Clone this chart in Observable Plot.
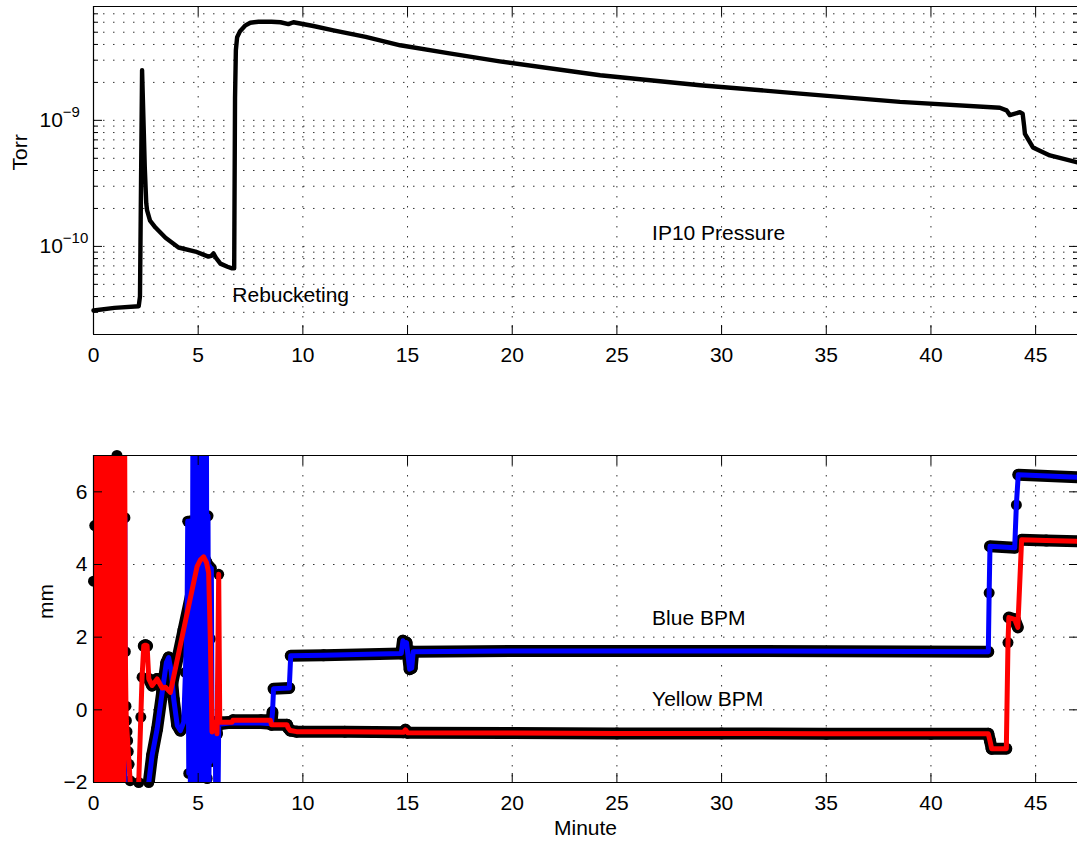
<!DOCTYPE html>
<html><head><meta charset="utf-8">
<script src="https://cdn.jsdelivr.net/npm/d3@7"></script>
<script src="https://cdn.jsdelivr.net/npm/@observablehq/plot@0.6"></script>
<style>
html,body{margin:0;padding:0;background:#fff;}
#wrap{position:relative;width:1077px;height:843px;overflow:hidden;background:#fff;}
#top,#bottom{position:absolute;left:0;}
#top{top:0;} #bottom{top:449px;}
</style></head><body>
<div id="wrap"><div id="top"></div><div id="bottom"></div></div>
<script>
// ---------- DATA ----------
const minuteTicks = [0, 5, 10, 15, 20, 25, 30, 35, 40, 45];
const torrTicks = [1e-10, 1e-9];
const torrMinorTicks = [2e-11, 3e-11, 4e-11, 5e-11, 6e-11, 7e-11, 8e-11, 9e-11,
  2e-10, 3e-10, 4e-10, 5e-10, 6e-10, 7e-10, 8e-10, 9e-10,
  2e-9, 3e-9, 4e-9, 5e-9, 6e-9, 7e-9, 8e-9];
const mmTicks = [-2, 0, 2, 4, 6];

// IP10 pressure (minute, Torr)
const pressMin = [0, 1.0, 2.16, 2.22, 2.32, 2.45, 2.52, 2.56, 2.7, 2.96,
  3.44, 4.06, 4.87, 5.49, 5.62, 5.73, 5.85, 6.06, 6.4, 6.62,
  6.72, 6.76, 6.8, 6.86, 7.0, 7.26, 7.49, 7.88, 8.5, 8.93,
  9.31, 9.55, 10.5, 11.46, 13.0, 14.65, 17.0, 19.4, 24.2, 28.97,
  33.75, 38.52, 43.29, 43.61, 43.77, 44.25, 44.38, 44.45, 44.49, 44.87,
  45.68, 46.95, 47];
const pressTorr = [3.1e-11, 3.25e-11, 3.35e-11, 4.0e-11, 2.5e-9, 4.2e-10, 2.2e-10, 1.93e-10, 1.6e-10, 1.41e-10,
  1.17e-10, 9.8e-11, 9.1e-11, 8.3e-11, 8.4e-11, 8.8e-11, 8.1e-11, 7.3e-11, 6.9e-11, 6.7e-11,
  6.7e-11, 1.5e-9, 3.6e-9, 4.56e-9, 5.1e-9, 5.67e-9, 5.95e-9, 6.05e-9, 6.05e-9, 6.0e-9,
  5.8e-9, 6.0e-9, 5.6e-9, 5.18e-9, 4.6e-9, 3.94e-9, 3.4e-9, 2.94e-9, 2.28e-9, 1.90e-9,
  1.63e-9, 1.40e-9, 1.26e-9, 1.20e-9, 1.10e-9, 1.16e-9, 1.13e-9, 9.0e-10, 7.8e-10, 6.1e-10,
  5.27e-10, 4.67e-10, 4.65e-10];

// Blue BPM samples [minute, mm]
const blueBpm = [[0,3.54],[0.06,5.07],[0.08,-3],[0.14,9],[0.2,-3],[0.26,9],[0.32,-3],[0.38,9],[0.44,-3],[0.5,9],
  [0.56,-3],[0.62,9],[0.68,-3],[0.74,9],[0.8,-3],[0.86,9],[0.92,-3],[0.98,9],[1.04,-3],[1.12,7.0],
  [1.18,-3],[1.26,9],[1.34,-3],[1.42,9],[1.46,-3],[1.5,5.29],[1.51,-2.5],[2.55,-2.5],[2.64,-2.0],[2.8,-1.25],
  [3.04,-0.52],[3.28,0.48],[3.48,1.3],[3.59,1.44],[3.72,1.03],[3.83,0.3],[4.0,-0.43],[4.15,-0.57],[4.31,-0.34],[4.39,1.03],
  [4.47,2.58],[4.5,5.19],[4.55,-1.75],[4.59,5.2],[4.63,-3],[4.67,5.2],[4.71,-3],[4.75,9],[4.79,-3],[4.83,9],
  [4.87,-3],[4.91,9],[4.95,-3],[4.99,9],[5.03,-3],[5.07,9],[5.11,-3],[5.15,9],[5.19,-3],[5.23,9],
  [5.27,-3],[5.31,9],[5.35,-3],[5.39,9],[5.43,-1.89],[5.47,5.34],[5.51,-3],[5.55,3.95],[5.59,-1.43],[5.63,3.9],
  [5.66,-0.45],[5.82,-0.45],[5.84,-3],[5.94,-3],[5.98,-0.4],[6.5,-0.36],[8.0,-0.36],[8.5,-0.38],[8.55,-0.06],
  [8.6,0.58],[9.35,0.6],[9.42,1.49],[11,1.5],[14.7,1.55],[14.78,1.9],[14.86,1.75],[14.95,1.85],[15.1,1.12],[15.2,1.15],
  [15.27,1.6],[20,1.62],[30,1.62],[42.74,1.6],[42.78,3.22],[42.82,4.5],[44.0,4.46],[44.08,5.64],[44.17,6.47],[47,6.4]];

// Yellow BPM samples [minute, mm]
const yellowBpm = [[0,-3],[0.04,9],[0.08,-3],[0.12,9],[0.16,-3],[0.2,9],[0.24,-3],[0.28,9],[0.32,-3],[0.36,9],
  [0.4,-3],[0.44,9],[0.48,-3],[0.52,9],[0.56,-3],[0.6,9],[0.64,-3],[0.68,9],[0.72,-3],[0.76,9],
  [0.8,-3],[0.84,9],[0.88,-3],[0.92,9],[0.96,-3],[1.0,9],[1.04,-3],[1.08,9],[1.12,-3],[1.16,9],
  [1.2,-3],[1.24,9],[1.28,-3],[1.32,9],[1.36,-3],[1.4,9],[1.44,-3],[1.48,9],
  [1.52,1.6],[1.55,0.1],[1.57,-0.3],[1.6,-0.6],[1.63,-0.85],[1.66,-1.15],[1.7,-1.5],[1.75,-1.95],[1.8,-2.5],[2.12,-2.5],
  [2.16,-2.0],[2.26,-0.2],[2.32,0.9],[2.4,1.76],[2.48,1.78],[2.56,1.76],[2.64,0.85],[2.8,0.67],[3.04,0.85],[3.28,0.6],
  [3.44,0.62],[3.67,0.48],[4.3,2.2],[4.95,3.95],[5.1,4.12],[5.26,4.21],[5.4,4.05],[5.5,3.77],[5.58,1.95],[5.66,-0.61],
  [5.74,-0.4],[5.82,-0.34],[5.9,-0.66],[5.98,3.73],[6.03,-0.34],[6.4,-0.34],[6.62,-0.34],[6.66,-0.29],[8.0,-0.29],[8.45,-0.29],
  [8.5,-0.41],[9.24,-0.41],[9.3,-0.5],[9.4,-0.57],[9.7,-0.6],[12,-0.6],[14.8,-0.62],[14.9,-0.55],[15.0,-0.63],[20,-0.64],
  [25,-0.65],[30,-0.65],[35,-0.66],[40,-0.66],[42.74,-0.66],[42.82,-0.85],[42.9,-1.07],[43.6,-1.07],[43.68,1.85],[43.72,2.54],
  [44.0,2.49],[44.15,2.27],[44.33,4.68],[45.5,4.66],[47,4.64]];

// annotations
const topNoteLabels = ["IP10 Pressure", "Rebucketing"];
const topNoteMin = [26.68, 6.63];
const topNoteTorr = [1.28e-10, 4.08e-11];
const bottomNoteLabels = ["Blue BPM", "Yellow BPM"];
const bottomNoteMin = [26.68, 26.68];
const bottomNoteMm = [2.53, 0.3];

// ---------- BUILD ----------
const FONT = "'Liberation Sans', Arial, Helvetica, sans-serif";
const FS = 21;
const W = 1077;
const gridStyle = {stroke: "#000", strokeOpacity: 0.8, strokeWidth: 1, strokeDasharray: "1.5,8.5"};
const frameStyle = {stroke: "#000", strokeWidth: 1.2};
const styleObj = {fontFamily: FONT, fontSize: FS + "px", color: "#000", background: "transparent", overflow: "visible"};
const minus = s => String(s).replace(/-/g, "\u2212");

const pressure = pressMin.map((m, i) => ({m, p: pressTorr[i]}));
const topNotes = topNoteLabels.map((t, i) => ({t, m: topNoteMin[i], p: topNoteTorr[i]}));
const bottomNotes = bottomNoteLabels.map((t, i) => ({t, m: bottomNoteMin[i], v: bottomNoteMm[i]}));

const topPlot = Plot.plot({
  width: W, height: 370,
  marginTop: 6, marginBottom: 36, marginLeft: 93, marginRight: 0,
  style: styleObj,
  x: {domain: [0, 47]},
  y: {type: "log", domain: [2e-11, 8e-9]},
  marks: [
    Plot.gridX(minuteTicks, gridStyle),
    Plot.gridY(torrMinorTicks.concat(torrTicks), gridStyle),
    Plot.line(pressure, {x: "m", y: "p", stroke: "#000", strokeWidth: 4.4, strokeLinejoin: "round", strokeLinecap: "round"}),
    Plot.text(topNotes, {x: "m", y: "p", text: "t", textAnchor: "start", fontSize: FS}),
    Plot.axisX(minuteTicks, {anchor: "bottom", tickSize: -9, tickPadding: 22, label: null, tickFormat: d => String(d)}),
    Plot.axisX(minuteTicks, {anchor: "top", tickSize: -9, label: null, tickFormat: () => ""}),
    Plot.axisY(torrTicks, {anchor: "left", tickSize: -9, tickPadding: 63, textAnchor: "start", label: null,
      tickFormat: d => "10^" + Math.round(Math.log10(d))}),
    Plot.axisY(torrTicks, {anchor: "right", tickSize: -9, label: null, tickFormat: () => ""}),
    Plot.axisY(torrMinorTicks, {anchor: "left", tickSize: -5, label: null, tickFormat: () => ""}),
    Plot.axisY(torrMinorTicks, {anchor: "right", tickSize: -5, label: null, tickFormat: () => ""}),
    Plot.ruleX([0], frameStyle),
    Plot.ruleY([2e-11], frameStyle),
    Plot.ruleY([8e-9], frameStyle),
    Plot.text(["Torr"], {frameAnchor: "left", dx: -73, rotate: -90, text: d => d, fontSize: FS})
  ]
});

// superscript exponents on log tick labels
topPlot.querySelectorAll('g[aria-label="y-axis tick label"] text').forEach(t => {
  const s = t.textContent;
  if (!s.includes("^")) return;
  const [base, exp] = s.split("^");
  t.textContent = base;
  const ts = document.createElementNS("http://www.w3.org/2000/svg", "tspan");
  ts.setAttribute("dy", "-10");
  ts.setAttribute("font-size", "15");
  ts.textContent = minus(exp);
  t.appendChild(ts);
});
document.getElementById("top").appendChild(topPlot);

function toPts(arr) { return arr.map(([m, v]) => ({m, v})); }
function flatSegs(pts) {
  const segs = [];
  for (let i = 1; i < pts.length; i++) {
    const a = pts[i - 1], b = pts[i];
    if (Math.abs(b.v - a.v) <= 8 * Math.abs(b.m - a.m)) segs.push({m1: a.m, v1: a.v, m2: b.m, v2: b.v});
  }
  return segs;
}
const blue = toPts(blueBpm), yellow = toPts(yellowBpm);
const inRange = d => d.v >= -2 && d.v <= 7;

const bandStyle = {x1: "m1", y1: "v1", x2: "m2", y2: "v2", stroke: "#000", strokeWidth: 12, strokeLinecap: "round", clip: true};
const dotStyle = {x: "m", y: "v", r: 5.5, fill: "#000"};

const bottomPlot = Plot.plot({
  width: W, height: 394,
  marginTop: 6, marginBottom: 61, marginLeft: 93, marginRight: 0,
  style: styleObj,
  x: {domain: [0, 47]},
  y: {domain: [-2, 7]},
  marks: [
    Plot.gridX(minuteTicks, gridStyle),
    Plot.gridY(mmTicks, gridStyle),
    Plot.link(flatSegs(blue), bandStyle),
    Plot.dot(blue.filter(inRange), dotStyle),
    Plot.link(flatSegs(yellow), bandStyle),
    Plot.dot(yellow.filter(inRange), dotStyle),
    Plot.line(blue, {x: "m", y: "v", stroke: "#0000ff", strokeWidth: 5, strokeLinejoin: "round", clip: true}),
    Plot.line(yellow, {x: "m", y: "v", stroke: "#ff0000", strokeWidth: 5, strokeLinejoin: "round", clip: true}),
    Plot.text(bottomNotes, {x: "m", y: "v", text: "t", textAnchor: "start", fontSize: FS}),
    Plot.axisX(minuteTicks, {anchor: "bottom", tickSize: -9, tickPadding: 22, label: null, tickFormat: d => String(d)}),
    Plot.axisX(minuteTicks, {anchor: "top", tickSize: -9, label: null, tickFormat: () => ""}),
    Plot.axisY(mmTicks, {anchor: "left", tickSize: -9, tickPadding: 15, label: null, tickFormat: d => minus(d)}),
    Plot.axisY(mmTicks, {anchor: "right", tickSize: -9, label: null, tickFormat: () => ""}),
    Plot.ruleX([0], frameStyle),
    Plot.ruleY([-2], frameStyle),
    Plot.ruleY([7], frameStyle),
    Plot.text(["mm"], {frameAnchor: "left", dx: -47, rotate: -90, text: d => d, fontSize: FS}),
    Plot.text(["Minute"], {frameAnchor: "bottom", dy: 52, text: d => d, fontSize: FS})
  ]
});
document.getElementById("bottom").appendChild(bottomPlot);
</script>
</body></html>
